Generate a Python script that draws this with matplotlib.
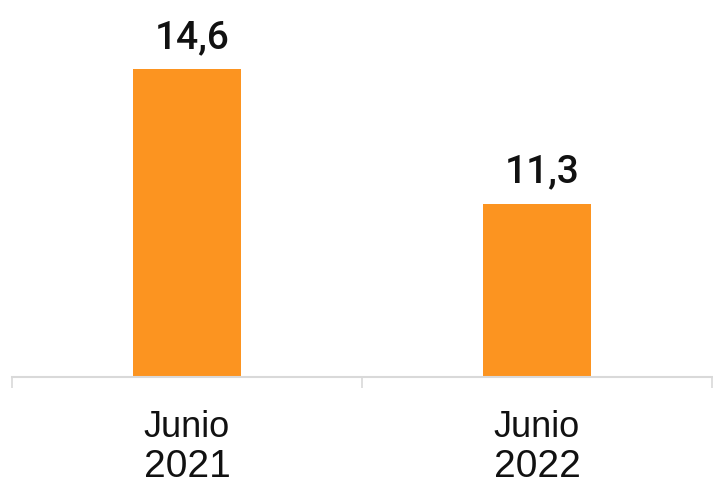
import matplotlib.pyplot as plt
from matplotlib.ticker import FixedLocator

months = ["Junio", "Junio"]
years = ["2021", "2022"]
values = [14.6, 11.3]
value_labels = ["14,6", "11,3"]

bar_color = "#FC9420"
grid_color = "#D9D9D9"

fig = plt.figure(figsize=(7.13, 4.84), dpi=100)
ax = fig.add_axes([12 / 713, 107 / 484, 700 / 713, 377 / 484])

x = list(range(len(values)))
bars = ax.bar(x, values, width=0.31, color=bar_color, zorder=2)

ax.set_xlim(-0.5, len(values) - 0.5)
ax.set_ylim(7.03, 16.31)

# value labels above bars
for xi, v, lab in zip(x, values, value_labels):
    ax.annotate(lab, (xi, v), xytext=(4, 15), textcoords="offset points",
                ha="center", va="baseline", fontsize=28,
                family="Roboto", fontweight="medium", color="#111111")

# two-line category labels with different sizes
for xi, m, yr in zip(x, months, years):
    ax.annotate(m, (xi, 0), xycoords=("data", "axes fraction"),
                xytext=(0, -43), textcoords="offset points",
                ha="center", va="baseline", fontsize=26,
                family="Liberation Sans", color="#111111")
    ax.annotate(yr, (xi, 0), xycoords=("data", "axes fraction"),
                xytext=(0, -72), textcoords="offset points",
                ha="center", va="baseline", fontsize=28,
                family="Liberation Sans", color="#111111")

ax.set_yticks([])
ax.xaxis.set_major_locator(FixedLocator([]))
ax.xaxis.set_minor_locator(FixedLocator([-0.5, 0.5, 1.5]))
ax.tick_params(axis="x", which="minor", length=8, width=1.2, color=grid_color)
for s in ["top", "right", "left"]:
    ax.spines[s].set_visible(False)
ax.spines["bottom"].set_color(grid_color)
ax.spines["bottom"].set_linewidth(1.5)
ax.spines["bottom"].set_zorder(3)

fig.savefig("out.png", dpi=100)
